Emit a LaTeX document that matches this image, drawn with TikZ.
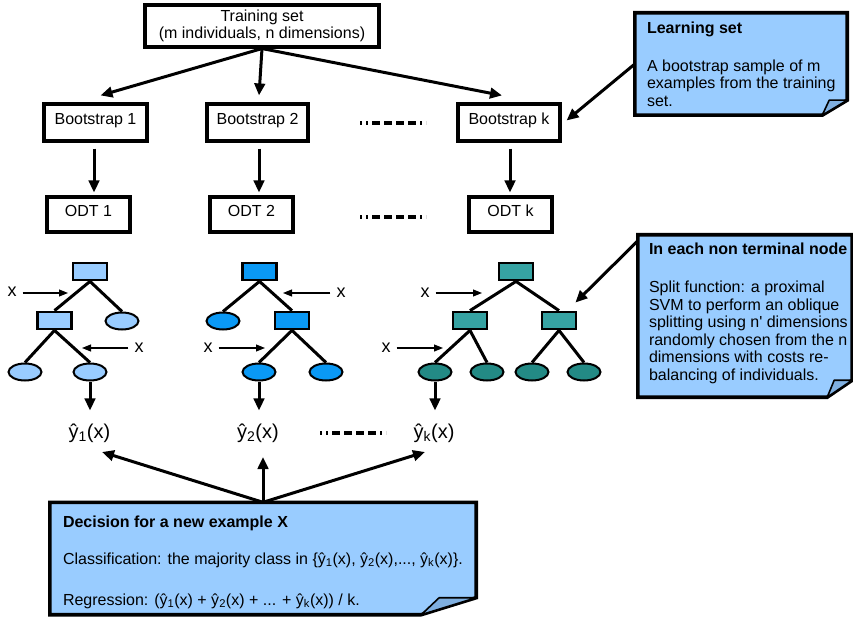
\documentclass[tikz,border=0pt]{standalone}
\usepackage{fontspec}
\setmainfont{Liberation Sans}
\usetikzlibrary{arrows.meta,shapes.geometric,calc}
\definecolor{notefill}{HTML}{99CCFF}
\definecolor{foldfill}{HTML}{7FAFE0}
\definecolor{treeA}{HTML}{99CCFF}
\definecolor{treeB}{HTML}{0A99F5}
\definecolor{treeC}{HTML}{36A3A3}
\definecolor{treeCdk}{HTML}{238A85}
\begin{document}
\begin{tikzpicture}[x=1pt,y=-1pt,
  every node/.style={font=\fontsize{16}{17.5}\selectfont},
  box/.style={draw,line width=3.1pt,fill=white,inner sep=0pt,align=center},
  rowtext/.style={text height=12pt,text depth=8pt},
  big/.style={line width=3pt,-{Triangle[length=12pt,width=10.5pt]}},
  xarrow/.style={line width=1.1pt,-{Triangle[length=9pt,width=7pt]}},
  tedge/.style={line width=3pt},
  trect/.style={draw,line width=2.8pt,minimum width=34pt,minimum height=17pt,inner sep=0pt},
  tleaf/.style={draw,ellipse,line width=2pt,minimum width=33pt,minimum height=17pt,inner sep=0pt},
  notebg/.style={inner sep=0pt},
  noteline/.style={draw,line width=3.6pt,fill=notefill,line join=miter},
  foldline/.style={draw,line width=1.6pt,fill=foldfill,line join=round},
  notetext/.style={anchor=north west,align=left,inner sep=0pt},
  yhat/.style={font=\fontsize{20}{22}\selectfont,inner sep=0pt},
  xl/.style={font=\fontsize{18}{20}\selectfont,inner sep=0pt},
  sepline/.style={line width=3.3pt,dash pattern=on 2pt off 4pt on 2pt off 4pt on 8pt off 4pt on 8pt off 4pt on 8pt off 4pt on 8pt off 4pt on 2pt off 4pt on 2pt off 40pt}
]
\fill[white] (0,0) rectangle (853,617);
\useasboundingbox (0,0) rectangle (853,617);

% ---------- top boxes ----------
\node[box,minimum width=234pt,minimum height=42pt] (ts) at (262,26) {Training set\\(m individuals, n dimensions)};

\node[box,rowtext,minimum width=103pt,minimum height=37pt] (b1) at (95.5,122.5) {Bootstrap 1};
\node[box,rowtext,minimum width=101pt,minimum height=37pt] (b2) at (257.5,122.5) {Bootstrap 2};
\node[box,rowtext,minimum width=102pt,minimum height=37pt] (bk) at (509,122.5) {Bootstrap k};

\node[box,rowtext,minimum width=83pt,minimum height=35pt] (o1) at (88.5,214.5) {ODT 1};
\node[box,rowtext,minimum width=83pt,minimum height=35pt] (o2) at (251.5,214.5) {ODT 2};
\node[box,rowtext,minimum width=83pt,minimum height=35pt] (ok) at (510.5,214.5) {ODT k};

\draw[big] (ts.south) -- ($(b1.north)+(5,-7)$);
\draw[big] (ts.south) -- ($(b2.north)+(1.5,-7)$);
\draw[big] (ts.south) -- ($(bk.north)+(-7,-7)$);

\draw[big,shorten <=6pt,shorten >=3pt] ($(b1.south)+(-1.5,0)$) -- ($(b1.south |- o1.north)+(-1.5,0)$);
\draw[big,shorten <=6pt,shorten >=3pt] ($(b2.south)+(1.5,0)$) -- ($(b2.south |- o2.north)+(1.5,0)$);
\draw[big,shorten <=6pt,shorten >=3pt] ($(bk.south)+(1,0)$) -- ($(bk.south |- ok.north)+(1,0)$);

% separators
\coordinate (s1a) at (360,123); \coordinate (s1b) at (426,123);
\coordinate (s2a) at (360,217); \coordinate (s2b) at (426,217);
\coordinate (s3a) at (320,433); \coordinate (s3b) at (386,433);
\draw[sepline] (s1a) -- (s1b);
\draw[sepline] (s2a) -- (s2b);
\draw[sepline] (s3a) -- (s3b);

% ---------- tree 1 ----------
\node[trect,fill=treeA] (r1) at (90,271.5) {};
\node[trect,fill=treeA] (c1) at (54.5,320.5) {};
\node[tleaf,fill=treeA] (l1a) at (122,321) {};
\node[tleaf,fill=treeA] (l1b) at (25,372) {};
\node[tleaf,fill=treeA] (l1c) at (90,372) {};
\draw[tedge] (r1.south) -- (c1.north);
\draw[tedge] (r1.south) -- (l1a.north);
\draw[tedge] (c1.south) -- (l1b.north);
\draw[tedge] (c1.south) -- (l1c.north);
\node[xl] (xa1) at (12,292) {x};
\coordinate (xa1t) at (68,293);
\draw[xarrow] ($(xa1.east)+(6,1)$) -- (xa1t);
\node[xl] (xb1) at (139,348) {x};
\coordinate (xb1t) at (82,348);
\draw[xarrow] ($(xb1.west)+(-6,0)$) -- (xb1t);

% ---------- tree 2 ----------
\node[trect,fill=treeB] (r2) at (259.5,271.5) {};
\node[tleaf,fill=treeB] (l2a) at (223,321) {};
\node[trect,fill=treeB] (c2) at (292,320.5) {};
\node[tleaf,fill=treeB] (l2b) at (259,372) {};
\node[tleaf,fill=treeB] (l2c) at (326,372) {};
\draw[tedge] (r2.south) -- (l2a.north);
\draw[tedge] (r2.south) -- (c2.north);
\draw[tedge] (c2.south) -- (l2b.north);
\draw[tedge] (c2.south) -- (l2c.north);
\node[xl] (xa2) at (341,293) {x};
\coordinate (xa2t) at (283,293);
\draw[xarrow] ($(xa2.west)+(-6,0)$) -- (xa2t);
\node[xl] (xb2) at (208,348) {x};
\coordinate (xb2t) at (265,348);
\draw[xarrow] ($(xb2.east)+(6,0)$) -- (xb2t);

% ---------- tree 3 ----------
\node[trect,fill=treeC] (r3) at (516,271.5) {};
\node[trect,fill=treeC] (c3a) at (470,320.5) {};
\node[trect,fill=treeC] (c3b) at (559,320.5) {};
\node[tleaf,fill=treeCdk] (l3a) at (435,372) {};
\node[tleaf,fill=treeCdk] (l3b) at (487,372) {};
\node[tleaf,fill=treeCdk] (l3c) at (532,372) {};
\node[tleaf,fill=treeCdk] (l3d) at (584,372) {};
\draw[tedge] (r3.south) -- (c3a.north);
\draw[tedge] (r3.south) -- (c3b.north);
\draw[tedge] (c3a.south) -- (l3a.north);
\draw[tedge] (c3a.south) -- (l3b.north);
\draw[tedge] (c3b.south) -- (l3c.north);
\draw[tedge] (c3b.south) -- (l3d.north);
\node[xl] (xa3) at (425,293) {x};
\coordinate (xa3t) at (482,293);
\draw[xarrow] ($(xa3.east)+(6,0)$) -- (xa3t);
\node[xl] (xb3) at (386,348) {x};
\coordinate (xb3t) at (443,348);
\draw[xarrow] ($(xb3.east)+(6,0)$) -- (xb3t);

% ---------- outputs ----------
\node[yhat] (y1) at (89.5,433) {ŷ\textsubscript{1}(x)};
\node[yhat] (y2) at (258,433) {ŷ\textsubscript{2}(x)};
\node[yhat] (yk) at (434,433) {ŷ\textsubscript{k}(x)};
\draw[big,shorten >=13pt] (l1c.south) -- (l1c.south |- y1.north);
\draw[big,shorten >=13pt] (l2b.south) -- (l2b.south |- y2.north);
\draw[big,shorten >=13pt] (l3a.south) -- (l3a.south |- yk.north);

% ---------- learning set note ----------
\node[notebg,minimum width=212pt,minimum height=102pt] (learn) at (741,64) {};
\draw[noteline] (learn.north west) -- (learn.north east) -- ($(learn.south east)+(0,-15)$) -- ($(learn.south east)+(-25,0)$) -- (learn.south west) -- cycle;
\draw[foldline] ($(learn.south east)+(-25,0)$) -- ($(learn.south east)+(-18,-15)$) -- ($(learn.south east)+(0,-15)$) -- cycle;
\node[notetext] (learnt) at ($(learn.north west)+(12,9)$) {\textbf{Learning set}\\[20pt]A bootstrap sample of m\\examples from the training\\set.};
\draw[big] (learn.west) -- ($(bk.east)+(5,-2)$);

% ---------- non terminal node note ----------
\node[notebg,minimum width=214pt,minimum height=162pt] (nt) at (745,316) {};
\draw[noteline] (nt.north west) -- (nt.north east) -- ($(nt.south east)+(0,-17)$) -- ($(nt.south east)+(-25,0)$) -- (nt.south west) -- cycle;
\draw[foldline] ($(nt.south east)+(-25,0)$) -- ($(nt.south east)+(-18,-17)$) -- ($(nt.south east)+(0,-17)$) -- cycle;
\node[notetext] (ntt) at ($(nt.north west)+(11,8)$) {\textbf{In each non terminal node}\\[20.5pt]Split function: a proximal\\SVM to perform an oblique\\splitting using n\textquotesingle{} dimensions\\randomly chosen from the n\\dimensions with costs re-\\balancing of individuals.};
\draw[big] ($(nt.north west)+(0,6)$) -- ($(c3b.north east)+(-2,-8)$);

% ---------- decision note ----------
\node[notebg,minimum width=426pt,minimum height=112pt] (dec) at (263,558.5) {};
\draw[noteline] (dec.north west) -- (dec.north east) -- ($(dec.south east)+(0,-17)$) -- ($(dec.south east)+(-55,0)$) -- (dec.south west) -- cycle;
\draw[foldline] ($(dec.south east)+(-55,0)$) -- ($(dec.south east)+(-37,-17)$) -- ($(dec.south east)+(0,-17)$) -- cycle;
\node[notetext] (dect) at ($(dec.north west)+(13,13)$) {\textbf{Decision for a new example X}\\[19.5pt]Classification: the majority class in \{ŷ\textsubscript{1}(x), ŷ\textsubscript{2}(x),..., ŷ\textsubscript{k}(x)\}.\\[23.5pt]Regression: (ŷ\textsubscript{1}(x) + ŷ\textsubscript{2}(x) + ... + ŷ\textsubscript{k}(x)) / k.};
\draw[big] (dec.north) -- ($(y1.center)+(12.5,19)$);
\draw[big] (dec.north) -- ($(y2.center)+(5,24)$);
\draw[big] (dec.north) -- ($(yk.center)+(-9,19)$);
\end{tikzpicture}
\end{document}
